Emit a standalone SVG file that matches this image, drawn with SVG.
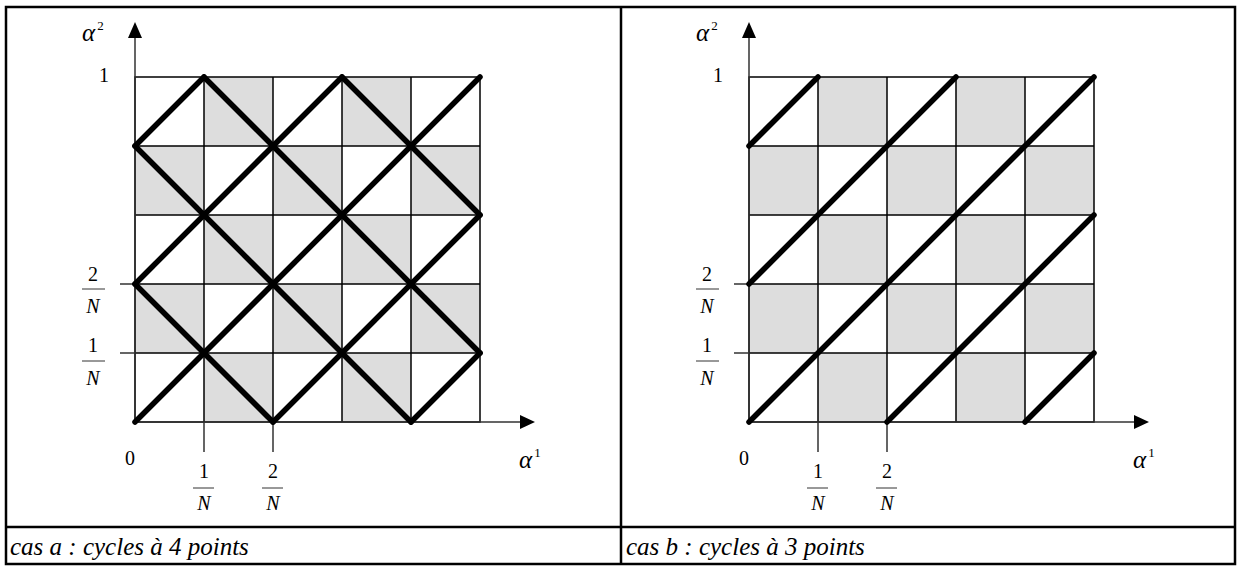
<svg xmlns="http://www.w3.org/2000/svg" width="1237" height="570" viewBox="0 0 1237 570">
<defs>
<style>
.frame{fill:none;stroke:#000;stroke-width:2.5}
.cell{fill:#dddddd;stroke:none}
.grid{fill:none;stroke:#000;stroke-width:1.5}
.axis{fill:none;stroke:#333;stroke-width:1.5}
.arrow{fill:#000}
.cyc{fill:none;stroke:#000;stroke-width:5.5;stroke-linecap:round}
.t{font-family:"Liberation Serif","Times New Roman",serif;font-size:20px;fill:#000}
.ti{font-family:"Liberation Serif","Times New Roman",serif;font-size:20px;font-style:italic;fill:#000}
.al{font-family:"Liberation Serif","Times New Roman",serif;font-size:25px;font-style:italic;fill:#000}
.sup{font-size:13px;font-style:normal}
.cap{font-family:"Liberation Serif","Times New Roman",serif;font-size:25px;font-style:italic;fill:#000}
.bar{stroke:#333;stroke-width:1}
</style>
<g id="grid-template">
<rect class="cell" x="69" y="276" width="69" height="69"/>
<rect class="cell" x="207" y="276" width="69" height="69"/>
<rect class="cell" x="0" y="207" width="69" height="69"/>
<rect class="cell" x="138" y="207" width="69" height="69"/>
<rect class="cell" x="276" y="207" width="69" height="69"/>
<rect class="cell" x="69" y="138" width="69" height="69"/>
<rect class="cell" x="207" y="138" width="69" height="69"/>
<rect class="cell" x="0" y="69" width="69" height="69"/>
<rect class="cell" x="138" y="69" width="69" height="69"/>
<rect class="cell" x="276" y="69" width="69" height="69"/>
<rect class="cell" x="69" y="0" width="69" height="69"/>
<rect class="cell" x="207" y="0" width="69" height="69"/>
<path class="grid" d="M0 0H345V345H0Z M69 0V345 M138 0V345 M207 0V345 M276 0V345 M0 69H345 M0 138H345 M0 207H345 M0 276H345"/>
</g>
<g id="axes-template">
<path class="axis" d="M0 345V-40 M0 345H386 M69 345V375 M138 345V375 M0 207H-15 M0 276H-15"/>
<polygon class="arrow" points="0,-55 -7,-39 7,-39"/>
<polygon class="arrow" points="400,345 385,338 385,352"/>
</g>
<g id="labels-template">
<text class="al" x="-53" y="-36">α<tspan class="sup" dx="2" dy="-11">2</tspan></text>
<text class="t" x="-31" y="5" text-anchor="middle">1</text>
<text class="t" x="-42" y="204" text-anchor="middle">2</text>
<line class="bar" x1="-53" y1="212" x2="-30" y2="212"/>
<text class="ti" x="-42" y="236" text-anchor="middle">N</text>
<text class="t" x="-42" y="275" text-anchor="middle">1</text>
<line class="bar" x1="-53" y1="284" x2="-30" y2="284"/>
<text class="ti" x="-42" y="308" text-anchor="middle">N</text>
<text class="t" x="-5" y="388" text-anchor="middle">0</text>
<text class="t" x="69" y="401" text-anchor="middle">1</text>
<line class="bar" x1="58" y1="411" x2="79" y2="411"/>
<text class="ti" x="69" y="433" text-anchor="middle">N</text>
<text class="t" x="138" y="401" text-anchor="middle">2</text>
<line class="bar" x1="127" y1="411" x2="148" y2="411"/>
<text class="ti" x="138" y="433" text-anchor="middle">N</text>
<text class="al" x="384" y="391">α<tspan class="sup" dx="2" dy="-11">1</tspan></text>
</g>
</defs>
<rect width="1237" height="570" fill="#fff"/>
<g id="table">
<rect class="frame" x="6" y="7" width="1229" height="557"/>
<line class="frame" x1="621" y1="7" x2="621" y2="564"/>
<line class="frame" x1="6" y1="527" x2="1235" y2="527"/>
</g>
<g id="panel-a" transform="translate(135,77)">
<use href="#grid-template"/>
<use href="#axes-template"/>
<use href="#labels-template"/>
</g>
<g id="panel-b" transform="translate(749,77)">
<use href="#grid-template"/>
<use href="#axes-template"/>
<use href="#labels-template"/>
</g>
<g id="connectors">
<g id="cycles-a">
<line class="cyc" x1="135" y1="422" x2="480" y2="77"/>
<line class="cyc" x1="273" y1="422" x2="480" y2="215"/>
<line class="cyc" x1="411" y1="422" x2="480" y2="353"/>
<line class="cyc" x1="135" y1="284" x2="342" y2="77"/>
<line class="cyc" x1="135" y1="146" x2="204" y2="77"/>
<line class="cyc" x1="135" y1="284" x2="273" y2="422"/>
<line class="cyc" x1="135" y1="146" x2="411" y2="422"/>
<line class="cyc" x1="204" y1="77" x2="480" y2="353"/>
<line class="cyc" x1="342" y1="77" x2="480" y2="215"/>
</g>
<g id="cycles-b">
<line class="cyc" x1="749" y1="422" x2="1094" y2="77"/>
<line class="cyc" x1="887" y1="422" x2="1094" y2="215"/>
<line class="cyc" x1="1025" y1="422" x2="1094" y2="353"/>
<line class="cyc" x1="749" y1="284" x2="956" y2="77"/>
<line class="cyc" x1="749" y1="146" x2="818" y2="77"/>
</g>
</g>
<g id="captions">
<text class="cap" x="10" y="555">cas a : cycles à 4 points</text>
<text class="cap" x="626" y="555">cas b : cycles à 3 points</text>
</g>
</svg>
